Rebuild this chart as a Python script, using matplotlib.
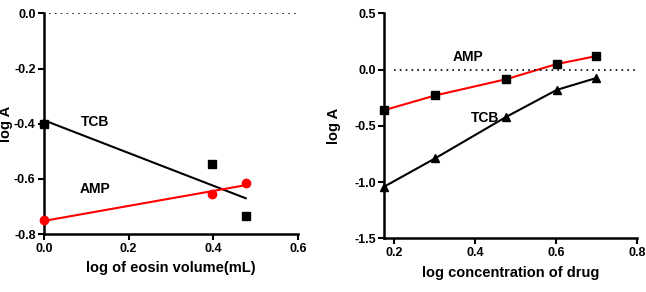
import numpy as np
import matplotlib
matplotlib.use("Agg")
import matplotlib.pyplot as plt

plt.rcParams['font.family'] = ['Liberation Sans', 'DejaVu Sans']
plt.rcParams['font.weight'] = 'bold'

# Left panel: log of eosin volume
eosin_x = [0.0, 0.398, 0.477]
eosin_tcb = [-0.40, -0.545, -0.735]
eosin_amp = [-0.75, -0.655, -0.613]

# Right panel: log concentration of drug
drug_x = [0.176, 0.301, 0.477, 0.602, 0.699]
drug_amp = [-0.36, -0.23, -0.085, 0.05, 0.12]
drug_tcb = [-1.04, -0.79, -0.42, -0.18, -0.075]

left_xticks = [0.0, 0.2, 0.4, 0.6]
left_yticks = [-0.8, -0.6, -0.4, -0.2, 0.0]
right_xticks = [0.2, 0.4, 0.6, 0.8]
right_yticks = [-1.5, -1.0, -0.5, 0.0, 0.5]

fig = plt.figure(figsize=(6.46, 2.92), dpi=100)
ax1 = fig.add_axes([0.068, 0.198, 0.393, 0.756])
ax2 = fig.add_axes([0.595, 0.184, 0.391, 0.770])

def style(ax):
    for s in ['top', 'right']:
        ax.spines[s].set_visible(False)
    for s in ['left', 'bottom']:
        ax.spines[s].set_linewidth(1.8)
    ax.tick_params(direction='out', length=4, width=1.5, labelsize=9, pad=2)
    for lab in ax.get_xticklabels() + ax.get_yticklabels():
        lab.set_fontweight('bold')

# Left panel
ex = np.array(eosin_x)
for ys, col, mk in [(eosin_tcb, 'black', 's'), (eosin_amp, 'red', 'o')]:
    ax1.plot(ex, ys, linestyle='none', marker=mk, color=col, markersize=6, clip_on=False, zorder=3)
    p = np.polyfit(ex, ys, 1)
    ax1.plot([ex.min(), ex.max()], np.polyval(p, [ex.min(), ex.max()]), color=col, lw=1.5, clip_on=False)
ax1.axhline(0, color='black', lw=1.2, linestyle=(0, (1, 2.5)), xmin=0.02)
ax1.set_xlim(0, 0.6)
ax1.set_ylim(-0.8, 0.0)
ax1.set_xticks(left_xticks)
ax1.set_yticks(left_yticks)
ax1.set_xticklabels([f"{v:.1f}" for v in left_xticks])
ax1.set_yticklabels([f"{v:.1f}" for v in left_yticks])
ax1.text(0.12, -0.395, 'TCB', fontsize=10, fontweight='bold', ha='center', va='center')
ax1.text(0.12, -0.635, 'AMP', fontsize=10, fontweight='bold', ha='center', va='center')
ax1.set_xlabel('log of eosin volume(mL)', fontsize=10.5, fontweight='bold', labelpad=5)
ax1.set_ylabel('log A', fontsize=10.5, fontweight='bold')
ax1.yaxis.set_label_coords(-0.123, 0.5)
style(ax1)

# Right panel
ax2.plot(drug_x, drug_amp, color='red', lw=1.5, zorder=2, clip_on=False)
ax2.plot(drug_x, drug_amp, linestyle='none', marker='s', color='black', markersize=6, zorder=3, clip_on=False)
ax2.plot(drug_x, drug_tcb, color='black', lw=1.5, marker='^', markersize=5.5, zorder=3, clip_on=False)
ax2.axhline(0, color='black', lw=1.2, linestyle=(0, (1, 2.5)), xmin=0.04)
ax2.set_xlim(0.176, 0.8)
ax2.set_ylim(-1.5, 0.5)
ax2.set_xticks(right_xticks)
ax2.set_yticks(right_yticks)
ax2.set_xticklabels([f"{v:.1f}" for v in right_xticks])
ax2.set_yticklabels([f"{v:.1f}" for v in right_yticks])
ax2.text(0.383, 0.114, 'AMP', fontsize=10, fontweight='bold', ha='center', va='center')
ax2.text(0.424, -0.433, 'TCB', fontsize=10, fontweight='bold', ha='center', va='center')
ax2.set_xlabel('log concentration of drug', fontsize=10.5, fontweight='bold', labelpad=5)
ax2.set_ylabel('log A', fontsize=10.5, fontweight='bold')
ax2.yaxis.set_label_coords(-0.17, 0.5)
style(ax2)

fig.savefig('out.png', dpi=100)
